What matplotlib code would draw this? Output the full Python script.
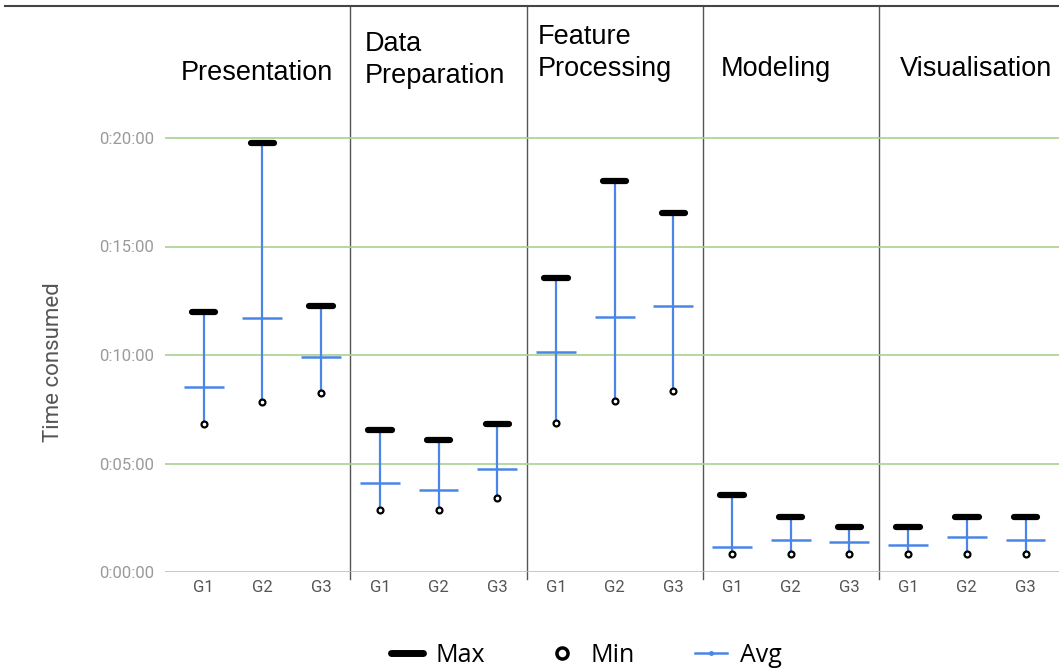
import matplotlib.pyplot as plt
from matplotlib.lines import Line2D
from matplotlib.ticker import FuncFormatter

# time consumed in minutes, per stage and group (G1, G2, G3)
stages = ["Presentation", "Data\nPreparation", "Feature\nProcessing", "Modeling", "Visualisation"]
groups = ["G1", "G2", "G3"]

max_min = [12.0, 19.77, 12.26,
           6.54, 6.08, 6.82,
           13.55, 18.02, 16.54,
           3.55, 2.53, 2.07,
           2.07, 2.53, 2.53]
avg_min = [8.53, 11.7, 9.91,
           4.10, 3.78, 4.75,
           10.14, 11.75, 12.26,
           1.15, 1.47, 1.38,
           1.24, 1.61, 1.47]
min_min = [6.82, 7.83, 8.25,
           2.86, 2.86, 3.41,
           6.87, 7.88, 8.34,
           0.83, 0.83, 0.83,
           0.83, 0.83, 0.83]

blue = "#4a86e8"
green = "#a9d18e"

fig = plt.figure(figsize=(10.59, 6.68), dpi=100)
ax = fig.add_axes([165 / 1059, 96 / 668, 894 / 1059, 566 / 668])

x = list(range(len(max_min)))

for i in x:
    ax.vlines(i, min_min[i], max_min[i], color=blue, lw=1.6, zorder=2)
    ax.hlines(avg_min[i], i - 0.34, i + 0.34, color=blue, lw=1.8, zorder=3)
    ax.plot([i - 0.2, i + 0.2], [max_min[i], max_min[i]], color="black", lw=4.5,
            solid_capstyle="round", zorder=4)
ax.scatter(x, min_min, s=18, facecolor="white", edgecolor="black", linewidth=1.6, zorder=5)

ax.set_xlim(-0.66, 14.57)
ax.set_ylim(0, 566 / 21.7)

# separators between stages
for b in [2.5, 5.5, 8.5, 11.5]:
    ax.axvline(b, ymin=-0.012, ymax=1, color="#555555", lw=1, clip_on=False, zorder=1)

ax.set_yticks([0, 5, 10, 15, 20])
ax.yaxis.set_major_formatter(FuncFormatter(lambda v, p: f"0:{int(v):02d}:00"))
ax.grid(axis="y", color=green, lw=1.2, zorder=0)
ax.set_xticks(x)
ax.set_xticklabels(groups * 5)
ax.tick_params(axis="y", length=0, pad=8, labelsize=12, labelcolor="#9a9a9a")
ax.tick_params(axis="x", length=0, pad=6, labelsize=12, labelcolor="#555555")
for lab in ax.get_xticklabels() + ax.get_yticklabels():
    lab.set_family("Roboto")
for s in ax.spines.values():
    s.set_visible(False)

ax.set_ylabel("Time consumed", fontsize=16, color="#555555", family="Roboto")
ax.yaxis.set_label_coords(-0.113, 0.371)

# stage titles
title_pos = [(0.90, 23.0, "center"),
             (2.74, 23.6, "left"),
             (5.69, 23.9, "left"),
             (8.81, 23.2, "left"),
             (11.86, 23.2, "left")]
for (tx, ty, ha), name in zip(title_pos, stages):
    ax.text(tx, ty, name, ha=ha, va="center", fontsize=19.5, family="Liberation Sans",
            linespacing=1.3)

# top rule
fig.add_artist(Line2D([5 / 1059, 1], [1 - 6 / 668, 1 - 6 / 668], color="#444444", lw=1.5))

handles = [
    Line2D([], [], color="black", lw=5, solid_capstyle="round"),
    Line2D([], [], ls="none", marker="o", markersize=8, markerfacecolor="white",
           markeredgecolor="black", markeredgewidth=2.5),
    Line2D([], [], color=blue, lw=1.8, marker="o", markersize=2.5),
]
fig.legend(handles, ["Max", "Min", "Avg"], loc="center", bbox_to_anchor=(586 / 1059, 13 / 668),
           ncol=3, frameon=False, handlelength=1.3, handletextpad=0.5, columnspacing=2.4,
           prop={"family": "Open Sans", "size": 18})

fig.savefig("out.png", dpi=100)
